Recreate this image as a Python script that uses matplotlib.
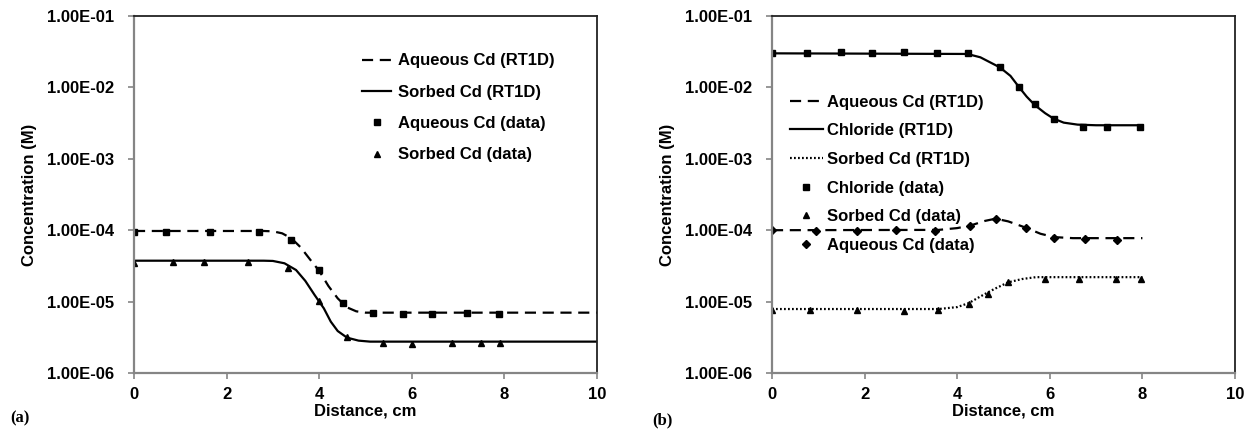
import numpy as np
import matplotlib
matplotlib.use("Agg")
import matplotlib.pyplot as plt
from matplotlib.ticker import FixedLocator, FuncFormatter

plt.rcParams['font.family'] = ['Liberation Sans', 'DejaVu Sans']
plt.rcParams['font.weight'] = 'bold'

# ---- panel (a) ----
a_aq_line_x = [0, 2.8, 3.0, 3.2, 3.4, 3.6, 3.8, 4.0, 4.2, 4.4, 4.6, 4.8, 5.0, 10]
a_aq_line = [9.75e-5, 9.75e-5, 9.64e-5, 9.04e-5, 7.69e-5, 5.75e-5, 3.91e-5, 2.69e-5,
             1.65e-5, 1.11e-5, 8.31e-6, 7.31e-6, 7.0e-6, 7.0e-6]
a_so_line_x = [0, 2.8, 3.0, 3.25, 3.5, 3.7, 3.9, 4.1, 4.25, 4.4, 4.6, 4.85, 5.1, 10]
a_so_line = [3.74e-5, 3.74e-5, 3.71e-5, 3.44e-5, 2.77e-5, 1.95e-5, 1.24e-5, 8.05e-6,
             5.24e-6, 3.87e-6, 3.13e-6, 2.84e-6, 2.75e-6, 2.75e-6]
a_aq_x = [0, 0.70, 1.64, 2.70, 3.40, 4.00, 4.52, 5.16, 5.80, 6.44, 7.19, 7.88]
a_aq = [9.4e-5, 9.5e-5, 9.4e-5, 9.5e-5, 7.3e-5, 2.74e-5, 9.5e-6, 6.85e-6, 6.6e-6, 6.7e-6, 6.85e-6, 6.8e-6]
a_so_x = [0, 0.84, 1.51, 2.47, 3.33, 4.00, 4.61, 5.38, 6.01, 6.86, 7.49, 7.90]
a_so = [3.44e-5, 3.58e-5, 3.62e-5, 3.62e-5, 2.99e-5, 1.02e-5, 3.24e-6, 2.66e-6, 2.55e-6, 2.6e-6, 2.6e-6, 2.6e-6]

# ---- panel (b) ----
b_aq_line_x = [0, 3.6, 4.0, 4.28, 4.6, 4.83, 5.1, 5.49, 5.8, 6.1, 6.5, 8.0]
b_aq_line = [1.0e-4, 1.01e-4, 1.07e-4, 1.16e-4, 1.35e-4, 1.45e-4, 1.33e-4, 1.08e-4,
             8.91e-5, 8.0e-5, 7.74e-5, 7.74e-5]
b_cl_line_x = [0, 4.22, 4.5, 4.92, 5.15, 5.34, 5.5, 5.68, 5.9, 6.08, 6.3, 6.6, 7.0, 8.0]
b_cl_line = [3.0e-2, 2.94e-2, 2.64e-2, 1.91e-2, 1.45e-2, 1.0e-2, 7.43e-3, 5.62e-3,
             4.35e-3, 3.66e-3, 3.21e-3, 3.01e-3, 2.95e-3, 2.95e-3]
b_so_line_x = [0, 3.6, 4.0, 4.25, 4.5, 4.8, 5.1, 5.4, 5.7, 6.0, 8.0]
b_so_line = [7.87e-6, 7.87e-6, 8.38e-6, 9.53e-6, 1.18e-5, 1.50e-5, 1.86e-5, 2.07e-5,
             2.20e-5, 2.20e-5, 2.20e-5]
b_cl_x = [0, 0.76, 1.50, 2.16, 2.85, 3.57, 4.23, 4.92, 5.34, 5.68, 6.08, 6.71, 7.23, 7.95]
b_cl = [3.0e-2, 3.0e-2, 3.1e-2, 3.0e-2, 3.1e-2, 3.0e-2, 3.05e-2, 1.9e-2, 1.0e-2, 5.8e-3,
        3.6e-3, 2.8e-3, 2.8e-3, 2.8e-3]
b_so_x = [0, 0.83, 1.84, 2.85, 3.58, 4.25, 4.66, 5.10, 5.90, 6.63, 7.42, 7.98]
b_so = [7.6e-6, 7.6e-6, 7.6e-6, 7.4e-6, 7.6e-6, 9.3e-6, 1.29e-5, 1.9e-5, 2.07e-5, 2.07e-5, 2.07e-5, 2.07e-5]
b_aq_x = [0, 0.96, 1.84, 2.67, 3.53, 4.28, 4.83, 5.49, 6.10, 6.75, 7.46]
b_aq = [1.0e-4, 9.9e-5, 9.9e-5, 1.0e-4, 9.9e-5, 1.16e-4, 1.45e-4, 1.06e-4, 7.66e-5, 7.5e-5, 7.3e-5]

y_ticks = [1e-6, 1e-5, 1e-4, 1e-3, 1e-2, 1e-1]
x_ticks = [0, 2, 4, 6, 8, 10]

FS = 12
W, H = 1254, 432
fig = plt.figure(figsize=(W / 100, H / 100), dpi=100)
ax_a = fig.add_axes([134 / W, 1 - 373 / H, 463 / W, 357 / H])
ax_b = fig.add_axes([772 / W, 1 - 373 / H, 463 / W, 357 / H])

DASH = dict(color='black', lw=1.6, linestyle=(0, (5, 3)))
SOLID = dict(color='black', lw=1.6, linestyle='-')
DOT = dict(color='black', lw=1.6, linestyle=(0, (0.8, 1.0)))
MK = dict(color='black', linestyle='none')


def style_axis(ax):
    ax.set_yscale('log')
    ax.set_xlim(0, 10)
    ax.set_ylim(1e-6, 1e-1)
    ax.yaxis.set_major_locator(FixedLocator(y_ticks))
    ax.yaxis.set_minor_locator(FixedLocator([]))
    ax.yaxis.set_major_formatter(FuncFormatter(lambda v, p: f"{v:.2E}"))
    ax.xaxis.set_major_locator(FixedLocator(x_ticks))
    for s in ('left', 'bottom'):
        ax.spines[s].set_color('#858585')
        ax.spines[s].set_linewidth(1.6)
    for s in ('top', 'right'):
        ax.spines[s].set_color('#222222')
        ax.spines[s].set_linewidth(1.3)
    ax.tick_params(axis='both', direction='out', length=4, width=1.2, color='#858585',
                   labelsize=FS, pad=6)
    ax.tick_params(axis='y', pad=10)
    for lab in ax.get_xticklabels() + ax.get_yticklabels():
        lab.set_fontweight('bold')
    ax.text(0.5, (373 - 403) / 357, "Distance, cm", transform=ax.transAxes, ha='center',
            va='top', fontsize=FS, fontweight='bold')
    ax.text(-0.225, 0.5, "Concentration (M)", transform=ax.transAxes, ha='center',
            va='center', rotation=90, fontsize=FS, fontweight='bold')


style_axis(ax_a)
style_axis(ax_b)

# panel (a)
ax_a.plot(a_aq_line_x, a_aq_line, label="Aqueous Cd (RT1D)", **DASH)
ax_a.plot(a_so_line_x, a_so_line, label="Sorbed Cd (RT1D)", **SOLID)
ax_a.plot(a_aq_x, a_aq, marker='s', ms=5, label="Aqueous Cd (data)", **MK)
ax_a.plot(a_so_x, a_so, marker='^', ms=5, label="Sorbed Cd (data)", **MK)
ax_a.legend(loc='upper left', bbox_to_anchor=(362 / W, 1 - 53.5 / H), bbox_transform=fig.transFigure,
            frameon=False, fontsize=FS, handlelength=1.75, handletextpad=0.4,
            labelspacing=0.98, borderpad=0, borderaxespad=0, markerscale=0.9)

# panel (b)
ax_b.plot(b_aq_line_x, b_aq_line, label="Aqueous Cd (RT1D)", **DASH)
ax_b.plot(b_cl_line_x, b_cl_line, label="Chloride (RT1D)", **SOLID)
ax_b.plot(b_so_line_x, b_so_line, label="Sorbed Cd (RT1D)", **DOT)
ax_b.plot(b_cl_x, b_cl, marker='s', ms=5, label="Chloride (data)", **MK)
ax_b.plot(b_so_x, b_so, marker='^', ms=5, label="Sorbed Cd (data)", **MK)
ax_b.plot(b_aq_x, b_aq, marker='D', ms=4.5, label="Aqueous Cd (data)", **MK)
ax_b.legend(loc='upper left', bbox_to_anchor=(790 / W, 1 - 94.5 / H), bbox_transform=fig.transFigure,
            frameon=False, fontsize=FS, handlelength=1.95, handletextpad=0.25,
            labelspacing=0.82, borderpad=0, borderaxespad=0, markerscale=0.9)

serif = ['Liberation Serif', 'DejaVu Serif']
fig.text(10 / W, 1 - 418 / H, "(a)", ha='left', va='center', fontsize=12,
         fontweight='bold', family=serif)
fig.text(652 / W, 1 - 420 / H, "(b)", ha='left', va='center', fontsize=12,
         fontweight='bold', family=serif)

fig.savefig("out.png", dpi=100)
